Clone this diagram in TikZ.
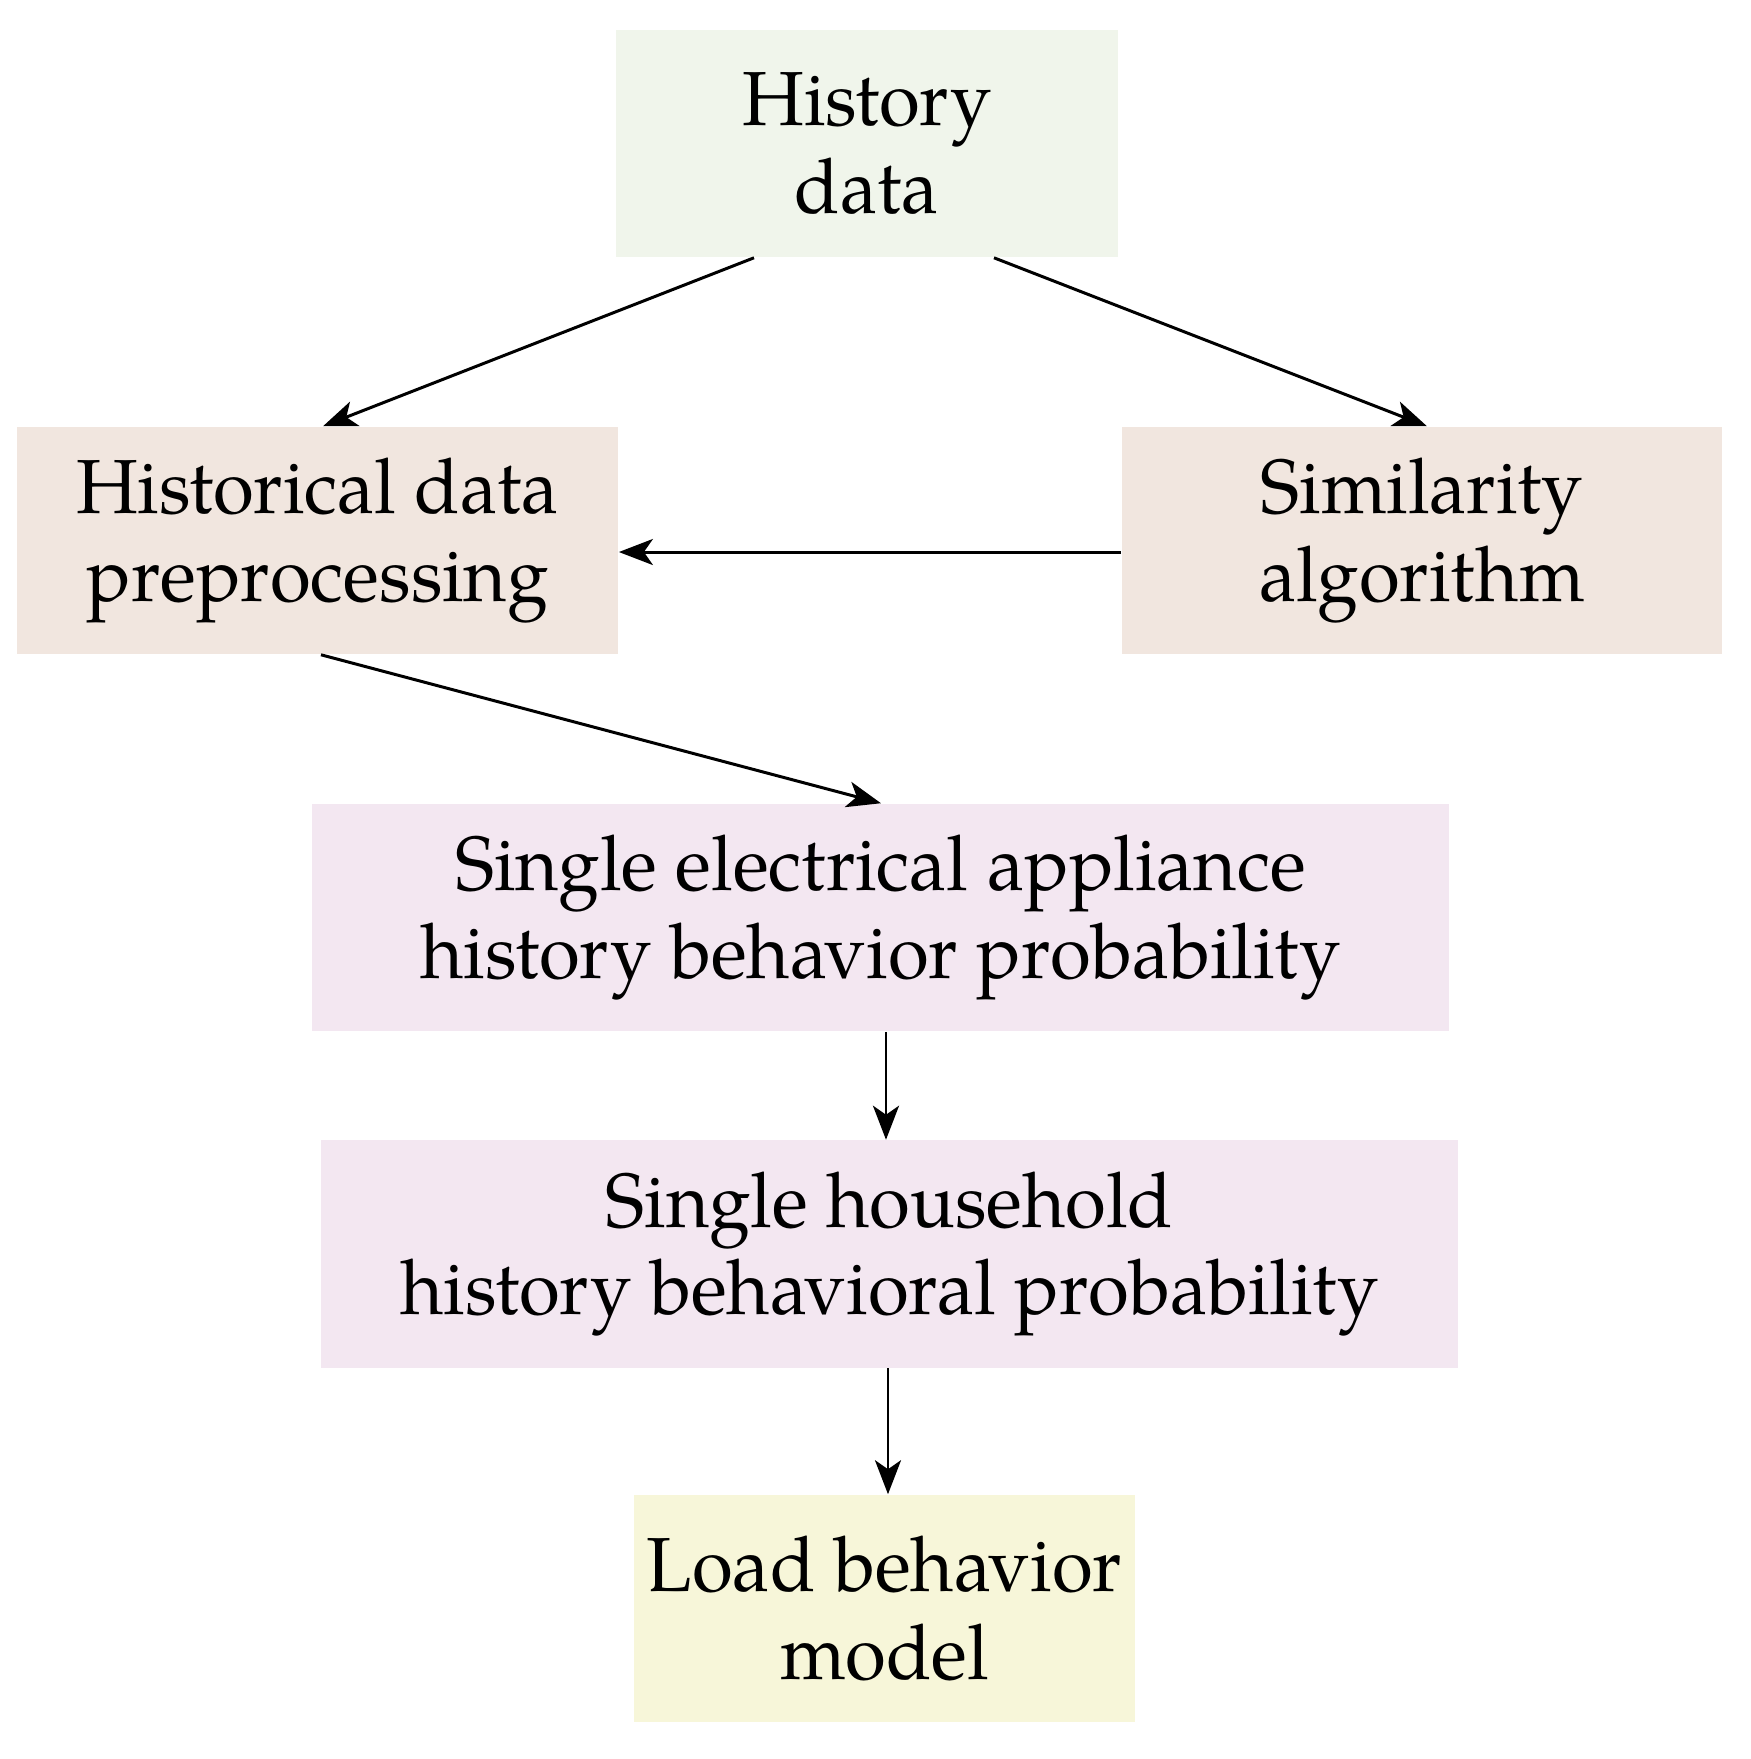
\documentclass[tikz,border=0pt]{standalone}
\usepackage{fontspec}
\setmainfont[FakeStretch=0.97]{TeX Gyre Pagella}
\usetikzlibrary{arrows.meta,calc}
\definecolor{cgreen}{HTML}{F0F5EB}
\definecolor{cbrown}{HTML}{F1E6DF}
\definecolor{cpink}{HTML}{F3E7F1}
\definecolor{cyellow}{HTML}{F7F6D9}
\tikzset{
  box/.style={draw=none, inner sep=0pt, align=center, minimum height=2.27cm,
    font=\fontsize{21.8}{25}\selectfont},
  conn/.style={line width=0.85pt, -{Stealth[length=0.34cm,width=0.26cm,inset=0.09cm]}}
}
\begin{document}
\begin{tikzpicture}[x=0.01cm,y=-0.01cm]
\useasboundingbox (0,0) rectangle (1751,1759);
\node[box, fill=cgreen, minimum width=5.02cm] (hist) at (867,143.5) {History\\data};
\node[box, fill=cbrown, minimum width=6.01cm] (prep) at (317.5,540.5) {Historical data\\preprocessing};
\node[box, fill=cbrown, minimum width=6.00cm] (sim) at (1422,540.5) {Similarity\\algorithm};
\node[box, fill=cpink, minimum width=11.37cm] (app) at (880.5,917.5) {Single electrical appliance\\history behavior probability};
\node[box, fill=cpink, minimum width=11.37cm] (house) at (889.5,1254) {Single household\\history behavioral probability};
\node[box, fill=cyellow, minimum width=5.01cm] (load) at (884.5,1608.5) {Load behavior\\model};
\draw[conn] ($(hist.south)+(-113,0)$) -- ($(prep.north)+(5.5,0)$);
\draw[conn] ($(hist.south)+(127,0)$) -- ($(sim.north)+(5,0)$);
\draw[conn] ($(sim.west)+(0,11.5)$) -- ($(prep.east)+(0,11.5)$);
\draw[conn] ($(prep.south)+(3.5,0)$) -- ($(app.north)+(0.5,0)$);
\draw[conn] ($(app.south)+(5.5,0)$) -- ($(house.north)+(-3.5,0)$);
\draw[conn] ($(house.south)+(-1.5,0)$) -- ($(load.north)+(3.5,0)$);
\end{tikzpicture}
\end{document}
